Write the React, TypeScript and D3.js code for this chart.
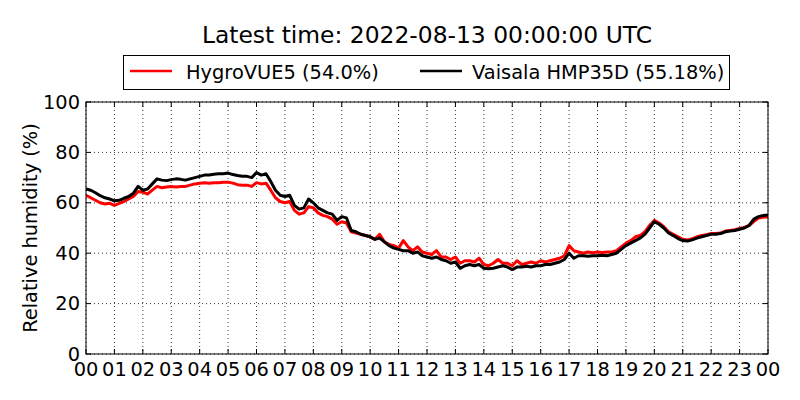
import React from "react";
import * as d3 from "d3";

// 10-minute samples from 00:00 to 24:00
const startHour = 0;
const stepHours = 1 / 6;

const hygroVue: number[] = [
  63, 62, 61, 60, 59.5, 59.8,
  59, 59.8, 60.5, 61.5, 62.5, 64.5,
  64.2, 63.5, 65, 66.5, 66, 66.3,
  66.5, 66.3, 66.5, 66.5, 67, 67.5,
  67.8, 68, 67.8, 68, 68, 68.2,
  68.2, 67.8, 67.2, 67, 67, 66.5,
  68, 67.5, 67.8, 65, 62, 60.5,
  60, 60.5, 57, 55.5, 56, 58.5,
  58, 56, 55, 54.5, 53.5, 51.5,
  52.5, 52, 48.5, 48, 47.5, 47,
  46.5, 45.5, 47.5, 44.5, 43.5, 43,
  42, 45, 42.5, 41, 42.5, 40.5,
  40, 39.5, 41, 38.5, 38.5, 37.5,
  38.5, 36, 37, 37, 36.5, 38,
  35.5, 35, 36, 37.5, 36, 36,
  35, 37, 35.5, 36, 36.5, 36,
  37, 36.5, 37, 37.5, 38, 39,
  43, 41, 40.5, 40, 40.5, 40.2,
  40.5, 40.3, 40.5, 40.5, 41, 42.5,
  44, 45, 46.5, 47, 48.5, 51,
  53, 52, 50.5, 48.5, 47.5, 46.5,
  45.5, 45.2, 45.8, 46.5, 47, 47.3,
  47.8, 47.8, 48, 48.8, 49, 49.3,
  49.8, 50.2, 51, 52.5, 54, 54.3,
  54.5,
];

const vaisala: number[] = [
  65.5, 65, 64, 62.8, 62, 61.5,
  60.8, 61, 61.8, 62.5, 63.8, 66.5,
  65, 65.5, 67.5, 69.5, 69, 68.8,
  69.2, 69.5, 69.3, 69, 69.5, 70,
  70.5, 71, 71, 71.3, 71.5, 71.5,
  71.8, 71.2, 70.8, 70.5, 70.5, 70,
  72, 71, 71.5, 68.5, 65, 63,
  62.5, 63, 59, 57.5, 58, 61.5,
  60, 58, 57, 56, 55.5, 53,
  54.5, 54, 49, 48.5, 47.5, 47,
  46.5, 45.5, 46, 44.5, 43, 42,
  41.5, 41, 41, 40, 40.5, 39,
  38.5, 38, 38.5, 37.5, 37, 36,
  36.5, 34, 35, 35.5, 35, 35.5,
  34, 33.8, 34, 34.5, 35, 34.5,
  33.5, 34.5, 34.5, 34.8, 34.5, 35,
  35, 35.5, 35.5, 36, 36.5, 37.5,
  40, 38, 39, 39, 38.8, 39,
  39, 39.2, 39, 39.5, 40, 41.5,
  43, 44, 45, 46, 47.5, 50,
  52.5, 51.5, 50, 48, 47, 45.8,
  45, 44.8, 45.3, 46, 46.5, 47,
  47.5, 47.5, 47.8, 48.5, 48.8, 49,
  49.5, 50, 51, 53.5, 54.5, 55,
  55.2,
];

const hourTicks = d3.range(0, 25);
const humidityTicks = [0, 20, 40, 60, 80, 100];

const titleText = "Latest time: 2022-08-13 00:00:00 UTC";
const legendLabels = ["HygroVUE5 (54.0%)", "Vaisala HMP35D (55.18%)"];
const seriesColors = ["#ff0000", "#000000"];

const W = 800;
const H = 400;
const margin = { top: 102, right: 32, bottom: 46, left: 86 };

export default function App() {
  const innerW = W - margin.left - margin.right;
  const innerH = H - margin.top - margin.bottom;

  const x = d3.scaleLinear().domain([0, 24]).range([0, innerW]);
  const y = d3.scaleLinear().domain([0, 100]).range([innerH, 0]);

  const line = d3
    .line<number>()
    .x((_, i) => x(startHour + i * stepHours))
    .y((d) => y(d));

  const font = "'DejaVu Sans', sans-serif";
  const tickLen = 5;
  const tickFont = 19.4;

  return (
    <svg
      width={W}
      height={H}
      style={{ position: "absolute", left: 0, top: 0, background: "#fff" }}
      fontFamily={font}
    >
      <rect width={W} height={H} fill="#fff" />
      <text x={margin.left + innerW / 2} y={43} textAnchor="middle" fontSize={23.4}>
        {titleText}
      </text>

      {/* legend */}
      <g>
        <rect x={123.5} y={55.5} width={606} height={34} fill="#fff" stroke="#000" strokeWidth={1} />
        <line x1={130} x2={172} y1={71} y2={71} stroke={seriesColors[0]} strokeWidth={2.5} />
        <text x={186} y={79} fontSize={19.4}>{legendLabels[0]}</text>
        <line x1={420} x2={462} y1={71} y2={71} stroke={seriesColors[1]} strokeWidth={2.5} />
        <text x={472} y={79} fontSize={19.4}>{legendLabels[1]}</text>
      </g>

      <g transform={`translate(${margin.left},${margin.top})`}>
        <defs>
          <clipPath id="plot-clip">
            <rect x={0} y={0} width={innerW} height={innerH} />
          </clipPath>
        </defs>

        {/* grid */}
        {hourTicks.map((h) => (
          <line
            key={`gx${h}`}
            x1={x(h)}
            x2={x(h)}
            y1={0}
            y2={innerH}
            stroke="#000"
            strokeWidth={0.8}
            strokeDasharray="1,3"
          />
        ))}
        {humidityTicks.map((v) => (
          <line
            key={`gy${v}`}
            x1={0}
            x2={innerW}
            y1={y(v)}
            y2={y(v)}
            stroke="#000"
            strokeWidth={0.8}
            strokeDasharray="1,3"
          />
        ))}

        <g clipPath="url(#plot-clip)">
          <path d={line(hygroVue) || ""} fill="none" stroke={seriesColors[0]} strokeWidth={3} strokeLinejoin="round" />
          <path d={line(vaisala) || ""} fill="none" stroke={seriesColors[1]} strokeWidth={3} strokeLinejoin="round" />
        </g>

        {/* inward ticks on all sides */}
        {hourTicks.map((h) => (
          <g key={`tx${h}`}>
            <line x1={x(h)} x2={x(h)} y1={innerH} y2={innerH - tickLen} stroke="#000" />
            <line x1={x(h)} x2={x(h)} y1={0} y2={tickLen} stroke="#000" />
            <text x={x(h)} y={innerH + 22} textAnchor="middle" fontSize={tickFont}>
              {String(h % 24).padStart(2, "0")}
            </text>
          </g>
        ))}
        {humidityTicks.map((v) => (
          <g key={`ty${v}`}>
            <line x1={0} x2={tickLen} y1={y(v)} y2={y(v)} stroke="#000" />
            <line x1={innerW} x2={innerW - tickLen} y1={y(v)} y2={y(v)} stroke="#000" />
            <text x={-6} y={y(v) + 6.5} textAnchor="end" fontSize={tickFont}>
              {v}
            </text>
          </g>
        ))}

        <rect x={0} y={0} width={innerW} height={innerH} fill="none" stroke="#000" strokeWidth={1} />
      </g>

      <text
        transform={`translate(37,${margin.top + innerH / 2}) rotate(-90)`}
        textAnchor="middle"
        fontSize={19.4}
      >
        Relative humidity (%)
      </text>
    </svg>
  );
}
